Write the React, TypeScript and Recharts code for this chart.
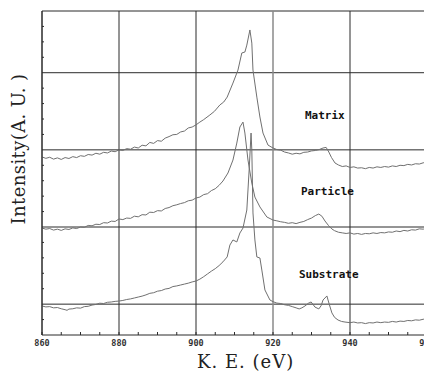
import { LineChart, Line, XAxis, YAxis, ReferenceLine } from "recharts";

// kinetic energy (eV) and intensity (arbitrary units, curves stacked)
const matrixEv = [860, 861, 862, 863, 864, 865, 866, 867, 868, 869, 870, 871, 872, 873, 874, 875, 876, 877, 878, 879, 880, 881, 882, 883, 884, 885, 886, 887, 888, 889, 890, 891, 892, 893, 894, 895, 896, 897, 898, 899, 900, 901, 902, 903.6, 904.8, 906.2, 907.2, 908.1, 909.6, 910.9, 911.9, 912.7, 913.2, 914, 914.5, 914.8, 915.8, 916.6, 917.4, 918.7, 920, 921, 922, 923, 924, 925, 926, 927, 928, 929, 930, 931, 932, 933, 933.8, 934.5, 935.2, 936.1, 937, 938, 939, 940, 941, 942, 943, 944, 945, 946, 947, 948, 949, 950, 951, 952, 953, 954, 955, 956, 957, 958, 959, 960];
const matrixI = [11.54, 11.45, 11.52, 11.4, 11.48, 11.38, 11.5, 11.44, 11.56, 11.5, 11.62, 11.58, 11.7, 11.66, 11.78, 11.72, 11.84, 11.8, 11.92, 11.88, 12.0, 11.96, 12.08, 12.04, 12.18, 12.12, 12.3, 12.26, 12.48, 12.42, 12.6, 12.56, 12.76, 12.86, 12.98, 13.0, 13.16, 13.22, 13.42, 13.48, 13.62, 13.8, 13.96, 14.26, 14.5, 14.91, 15.1, 15.42, 16.33, 17.17, 18.28, 18.34, 18.79, 19.77, 18.92, 17.17, 15.42, 14.13, 13.09, 12.31, 12.12, 12.02, 11.98, 11.86, 11.8, 11.72, 11.78, 11.74, 11.84, 11.86, 11.93, 11.96, 12.02, 12.12, 12.16, 11.86, 11.5, 11.15, 11.02, 10.92, 10.96, 10.86, 10.9, 10.82, 10.84, 10.78, 10.86, 10.82, 10.9, 10.86, 10.92, 10.88, 10.96, 10.92, 11.0, 10.98, 11.06, 11.02, 11.1, 11.08, 11.16, 11.2];

const particleEv = [860, 861, 862, 863, 864, 865, 866, 867, 868, 869, 870, 871, 872, 873, 874, 875, 876, 877, 878, 879, 880, 881, 882, 883, 884, 885, 886, 887, 888, 889, 890, 891, 892, 893, 894, 895, 896, 897, 898, 899, 900, 901, 902, 903, 904, 905, 906, 907, 908.3, 909.6, 910.6, 911.4, 912.2, 912.7, 913.5, 914.5, 915.3, 916.6, 918.4, 920, 921, 922, 923, 924, 925, 926, 927, 928, 929, 930, 931, 931.9, 932.7, 933.5, 934.4, 935.3, 936, 937, 938, 939, 940, 941, 942, 943, 944, 945, 946, 947, 948, 949, 950, 951, 952, 953, 954, 955, 956, 957, 958, 959, 960];
const particleI = [6.93, 6.86, 6.9, 6.8, 6.86, 6.78, 6.88, 6.84, 6.94, 6.9, 7.0, 6.98, 7.1, 7.08, 7.18, 7.16, 7.28, 7.26, 7.38, 7.36, 7.52, 7.48, 7.58, 7.56, 7.7, 7.66, 7.8, 7.78, 7.96, 7.94, 8.06, 8.04, 8.2, 8.26, 8.38, 8.44, 8.52, 8.58, 8.7, 8.74, 8.88, 8.94, 9.1, 9.16, 9.36, 9.48, 9.7, 9.98, 10.5, 11.34, 12.44, 13.48, 13.8, 13.09, 11.34, 9.85, 8.94, 8.3, 7.65, 7.45, 7.4, 7.34, 7.3, 7.24, 7.28, 7.22, 7.3, 7.36, 7.48, 7.58, 7.74, 7.84, 7.7, 7.39, 7.1, 6.87, 6.76, 6.66, 6.62, 6.58, 6.62, 6.54, 6.58, 6.52, 6.58, 6.56, 6.62, 6.58, 6.64, 6.62, 6.68, 6.66, 6.74, 6.7, 6.78, 6.74, 6.82, 6.8, 6.88, 6.86, 6.93];

const substrateEv = [860, 861, 862, 863, 864, 865, 866, 866.5, 867, 868, 869, 870, 871, 872, 873, 874, 875, 876, 877, 878, 879, 880, 881, 882, 883, 884, 885, 886, 887, 888, 889, 890, 891, 892, 893, 894, 895, 896, 897, 898, 899, 900, 901, 902, 903, 904, 905, 906, 907, 908.1, 908.8, 909.6, 910.6, 911.4, 912.2, 913.2, 913.8, 914.3, 914.5, 914.8, 915.3, 915.8, 916.6, 917.1, 917.9, 919.2, 920, 921, 922, 923, 924, 925, 926, 926.8, 927.5, 928.3, 929.2, 929.9, 930.4, 930.9, 931.9, 932.5, 933, 934, 934.6, 935.3, 936, 936.9, 937.8, 938.7, 940, 941, 942, 943, 944, 945, 946, 947, 948, 949, 950, 951, 952, 953, 954, 955, 956, 957, 958, 959, 960];
const substrateI = [1.88, 1.82, 1.84, 1.76, 1.78, 1.7, 1.64, 1.6, 1.68, 1.7, 1.76, 1.74, 1.84, 1.86, 1.94, 1.98, 2.06, 2.04, 2.12, 2.14, 2.18, 2.2, 2.24, 2.3, 2.34, 2.4, 2.46, 2.52, 2.6, 2.7, 2.74, 2.84, 2.88, 2.98, 3.02, 3.14, 3.18, 3.24, 3.3, 3.36, 3.44, 3.5, 3.62, 3.78, 3.96, 4.14, 4.3, 4.5, 4.74, 5.06, 5.83, 6.16, 6.03, 6.61, 6.93, 8.1, 10.69, 13.09, 11.99, 7.91, 6.16, 5.06, 4.99, 4.21, 2.92, 2.27, 2.16, 2.07, 2.04, 1.96, 1.92, 1.84, 1.76, 1.69, 1.76, 1.88, 2.06, 2.14, 1.98, 1.81, 1.69, 1.9, 2.27, 2.53, 2.0, 1.43, 1.14, 0.97, 0.88, 0.84, 0.8, 0.84, 0.78, 0.8, 0.74, 0.8, 0.78, 0.84, 0.8, 0.84, 0.82, 0.88, 0.84, 0.9, 0.88, 0.94, 0.92, 0.98, 0.96, 1.02, 1.04];

const xTicks = [860, 865, 870, 875, 880, 885, 890, 895, 900, 905, 910, 915, 920, 925, 930, 935, 940, 945, 950, 955, 960];
const yTicks = [1, 3, 4, 5, 6, 8, 9, 10, 11, 13, 14, 15, 16, 18, 19, 20];
const yGrid = [2, 7, 12, 17, 21];
const xGrid = [860, 880, 900, 940];

const toRows = (ev: number[], vals: number[]) => ev.map((e, i) => ({ e, v: vals[i] }));

const LINE = "#707070";
const GRID = "#2b2b2b";

// x ticks point up into the plot, labels only every 20 eV
function XTick({ x, y, payload }: any) {
  const v = payload.value;
  return (
    <g>
      <line x1={x} x2={x} y1={y} y2={y - 3} stroke={GRID} />
      {v % 20 === 0 && (
        <text x={x} y={y + 11} textAnchor="middle" fontSize={8.5} fontWeight="bold" fontFamily="DejaVu Sans Mono" fill="#333">
          {v}
        </text>
      )}
    </g>
  );
}

// y ticks point right into the plot, no labels
function YTick({ x, y }: any) {
  return <line x1={x} x2={x + 2} y1={y} y2={y} stroke={GRID} />;
}

export default function App() {
  return (
    <div style={{ position: "absolute", left: 0, top: 0, width: 424, height: 372, overflow: "hidden", background: "#fff" }}>
      <LineChart width={445} height={372} margin={{ top: 11, right: 18, left: 0, bottom: 0 }}>
        <XAxis
          dataKey="e"
          type="number"
          domain={[860, 960]}
          ticks={xTicks}
          allowDataOverflow
          height={37}
          tickLine={false}
          tickSize={0}
          tickMargin={0}
          axisLine={{ stroke: GRID }}
          tick={<XTick />}
          interval={0}
        />
        <YAxis
          type="number"
          domain={[0, 21]}
          ticks={yTicks}
          width={42}
          tickLine={false}
          tickSize={0}
          tickMargin={0}
          axisLine={{ stroke: GRID }}
          tick={<YTick />}
          interval={0}
        />
        {yGrid.map((y) => (
          <ReferenceLine key={"y" + y} y={y} stroke={GRID} />
        ))}
        {xGrid.map((x) => (
          <ReferenceLine key={"x" + x} x={x} stroke={GRID} />
        ))}
        <ReferenceLine x={920} stroke="#8a8a8a" strokeWidth={1.5} />
        <Line data={toRows(matrixEv, matrixI)} dataKey="v" stroke={LINE} strokeWidth={1} dot={false} isAnimationActive={false} />
        <Line data={toRows(particleEv, particleI)} dataKey="v" stroke={LINE} strokeWidth={1} dot={false} isAnimationActive={false} />
        <Line data={toRows(substrateEv, substrateI)} dataKey="v" stroke={LINE} strokeWidth={1} dot={false} isAnimationActive={false} />
      </LineChart>
      <div style={{ position: "absolute", left: 305, top: 109, font: "bold 11px 'DejaVu Sans Mono'", color: "#111" }}>Matrix</div>
      <div style={{ position: "absolute", left: 301, top: 185, font: "bold 11px 'DejaVu Sans Mono'", color: "#111" }}>Particle</div>
      <div style={{ position: "absolute", left: 299, top: 268, font: "bold 11px 'DejaVu Sans Mono'", color: "#111" }}>Substrate</div>
      <div style={{ position: "absolute", left: 197, top: 352, font: "18px 'DejaVu Serif'", letterSpacing: 1, lineHeight: "20px", color: "#222", whiteSpace: "nowrap" }}>K. E. (eV)</div>
      <div
        style={{
          position: "absolute",
          left: 19,
          top: 149,
          transform: "translate(-50%, -50%) rotate(-90deg)",
          font: "18px 'DejaVu Serif'",
          letterSpacing: 0.4,
          lineHeight: "20px",
          color: "#222",
          whiteSpace: "nowrap",
        }}
      >
        Intensity(A. U. )
      </div>
    </div>
  );
}
